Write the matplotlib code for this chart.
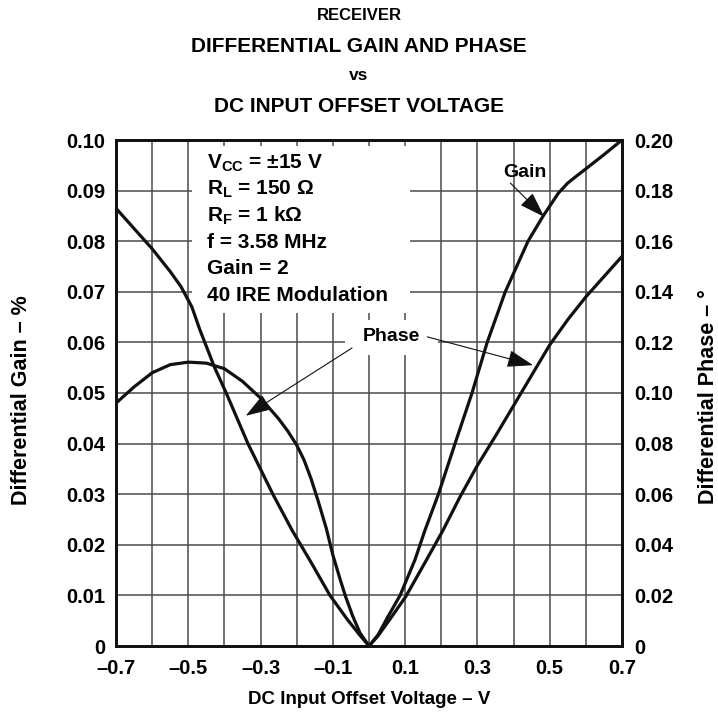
import matplotlib
matplotlib.use("Agg")
import matplotlib.pyplot as plt
from matplotlib.patches import Rectangle
import numpy as np

plt.rcParams['font.family'] = ['Liberation Sans', 'DejaVu Sans']
plt.rcParams['font.weight'] = 'bold'
plt.rcParams['mathtext.fontset'] = 'custom'
plt.rcParams['mathtext.rm'] = 'Liberation Sans:bold'
plt.rcParams['mathtext.bf'] = 'Liberation Sans:bold'

# ---- data ----
gain_voltage = [-0.70, -0.65, -0.60, -0.55, -0.50, -0.45, -0.40, -0.35, -0.30, -0.25,
                -0.225, -0.20, -0.18, -0.16, -0.14, -0.118, -0.10, -0.08, -0.065, -0.045,
                -0.025, 0.0, 0.025, 0.05, 0.086, 0.127, 0.155, 0.192, 0.238, 0.285,
                0.327, 0.377, 0.44, 0.482, 0.524, 0.55, 0.571, 0.60, 0.65, 0.70]
gain_pct = [0.0480, 0.0512, 0.0540, 0.0556, 0.0561, 0.0559, 0.0548, 0.0523, 0.0490, 0.0449,
            0.0425, 0.0397, 0.0368, 0.0330, 0.0285, 0.0232, 0.0180, 0.0132, 0.0098, 0.0059,
            0.0026, 0.0, 0.0022, 0.0055, 0.0100, 0.0170, 0.0229, 0.0300, 0.0400, 0.0500,
            0.0600, 0.0700, 0.0800, 0.0850, 0.0895, 0.0915, 0.0927, 0.0943, 0.0971, 0.1000]

phase_voltage = [-0.70, -0.65, -0.60, -0.55, -0.52, -0.49, -0.468, -0.427, -0.395, -0.335,
                 -0.266, -0.213, -0.16, -0.108, -0.06, -0.025, 0.0, 0.025, 0.06, 0.102,
                 0.155, 0.205, 0.252, 0.30, 0.35, 0.40, 0.45, 0.50, 0.55, 0.60,
                 0.65, 0.70]
phase_deg = [0.173, 0.165, 0.157, 0.148, 0.142, 0.134, 0.125, 0.110, 0.100, 0.080,
             0.060, 0.0458, 0.0330, 0.0200, 0.0105, 0.0042, 0.0, 0.0040, 0.0110, 0.0196,
             0.0330, 0.0458, 0.0590, 0.0714, 0.0830, 0.0950, 0.1070, 0.1190, 0.1290, 0.1380,
             0.1460, 0.1540]

x_ticks = [-0.7, -0.5, -0.3, -0.1, 0.1, 0.3, 0.5, 0.7]
x_tick_labels = ['\u20130.7', '\u20130.5', '\u20130.3', '\u20130.1', '0.1', '0.3', '0.5', '0.7']
y_left_ticks = [0, 0.01, 0.02, 0.03, 0.04, 0.05, 0.06, 0.07, 0.08, 0.09, 0.10]
y_left_labels = ['0', '0.01', '0.02', '0.03', '0.04', '0.05', '0.06', '0.07', '0.08', '0.09', '0.10']
y_right_ticks = [0, 0.02, 0.04, 0.06, 0.08, 0.10, 0.12, 0.14, 0.16, 0.18, 0.20]
y_right_labels = ['0', '0.02', '0.04', '0.06', '0.08', '0.10', '0.12', '0.14', '0.16', '0.18', '0.20']

conditions = ["V$_{\\mathrm{CC}}$ = \u00b115 V", "R$_{\\mathrm{L}}$ = 150 \u03a9",
              "R$_{\\mathrm{F}}$ = 1 k\u03a9", "f = 3.58 MHz", "Gain = 2", "40 IRE Modulation"]

W, H = 718, 713
dpi = 100
fig = plt.figure(figsize=(W / dpi, H / dpi), dpi=dpi)
ax = fig.add_axes([116 / W, 1 - 646 / H, (622 - 116) / W, (646 - 140) / H])
ax2 = ax.twinx()

ax.set_xlim(-0.7, 0.7)
ax.set_ylim(0, 0.10)
ax2.set_ylim(0, 0.20)

# grid
grid_kw = dict(color='#4a4a4a', lw=1.1, zorder=1)
for xv in np.arange(-6, 7) / 10:
    ax.axvline(xv, **grid_kw)
for yv in np.arange(1, 10) / 100:
    ax.axhline(yv, **grid_kw)

# white boxes behind text
ax.add_patch(Rectangle((-0.49, 0.0658), 0.603, 0.0330, facecolor='white', edgecolor='none', zorder=2))
ax.add_patch(Rectangle((-0.066, 0.0575), 0.257, 0.0069, facecolor='white', edgecolor='none', zorder=2))

# curves
ax.plot(gain_voltage, gain_pct, color='#111111', lw=2.3, zorder=4,
        solid_joinstyle='round', solid_capstyle='round')
ax2.plot(phase_voltage, phase_deg, color='#111111', lw=2.3, zorder=4,
         solid_joinstyle='round', solid_capstyle='round')

# ticks
fs_tick = 14.5
ax.set_xticks(x_ticks)
ax.set_xticklabels(x_tick_labels, fontsize=fs_tick, fontweight='bold')
ax.set_yticks(y_left_ticks)
ax.set_yticklabels(y_left_labels, fontsize=fs_tick, fontweight='bold')
ax2.set_yticks(y_right_ticks)
ax2.set_yticklabels(y_right_labels, fontsize=fs_tick, fontweight='bold')
ax.tick_params(axis='y', length=0, pad=8)
ax.tick_params(axis='x', length=0, pad=9)
ax2.tick_params(axis='y', length=0, pad=9)

for a in (ax, ax2):
    for s in a.spines.values():
        s.set_linewidth(2.0)
        s.set_color('#111111')

# conditions text
y0 = 0.09447
for i, t in enumerate(conditions):
    ax.text(-0.447, y0 - i * 0.00526, t, fontsize=15, fontweight='bold',
            va='baseline', ha='left', zorder=5)

# annotations
arrow = dict(arrowstyle='-|>,head_length=0.9,head_width=0.3', lw=0.8, color='#111111',
             mutation_scale=18, shrinkA=0, shrinkB=0)
ax.text(0.432, 0.0936, 'Gain', fontsize=14, fontweight='bold', ha='center', va='center', zorder=5)
ax.annotate('', xy=(0.485, 0.0848), xytext=(0.391, 0.0915), arrowprops=arrow, zorder=5)
ax.text(0.062, 0.0612, 'Phase', fontsize=14, fontweight='bold', ha='center', va='center', zorder=5)
ax.annotate('', xy=(-0.341, 0.0455), xytext=(-0.047, 0.0589), arrowprops=arrow, zorder=5)
ax.annotate('', xy=(0.454, 0.0555), xytext=(0.161, 0.0611), arrowprops=arrow, zorder=5)

# axis labels
fig.text(22 / W, 1 - 400 / H, 'Differential Gain \u2013 %', rotation=90, ha='center', va='center',
         fontsize=15.5, fontweight='bold')
fig.text(708 / W, 1 - 397 / H, 'Differential Phase \u2013 \u00b0', rotation=90, ha='center', va='center',
         fontsize=15.5, fontweight='bold')
fig.text(369 / W, 1 - 700 / H, 'DC Input Offset Voltage \u2013 V', ha='center', va='center',
         fontsize=13.5, fontweight='bold')

# titles
fig.text(359 / W, 1 - 16 / H, 'RECEIVER', ha='center', va='center', fontsize=12, fontweight='bold')
fig.text(359 / W, 1 - 46 / H, 'DIFFERENTIAL GAIN AND PHASE', ha='center', va='center', fontsize=15, fontweight='bold')
fig.text(359 / W, 1 - 76 / H, 'vs', ha='center', va='center', fontsize=12.5, fontweight='bold')
fig.text(359 / W, 1 - 106 / H, 'DC INPUT OFFSET VOLTAGE', ha='center', va='center', fontsize=15, fontweight='bold')

fig.savefig('out.png', dpi=dpi, facecolor='white')
